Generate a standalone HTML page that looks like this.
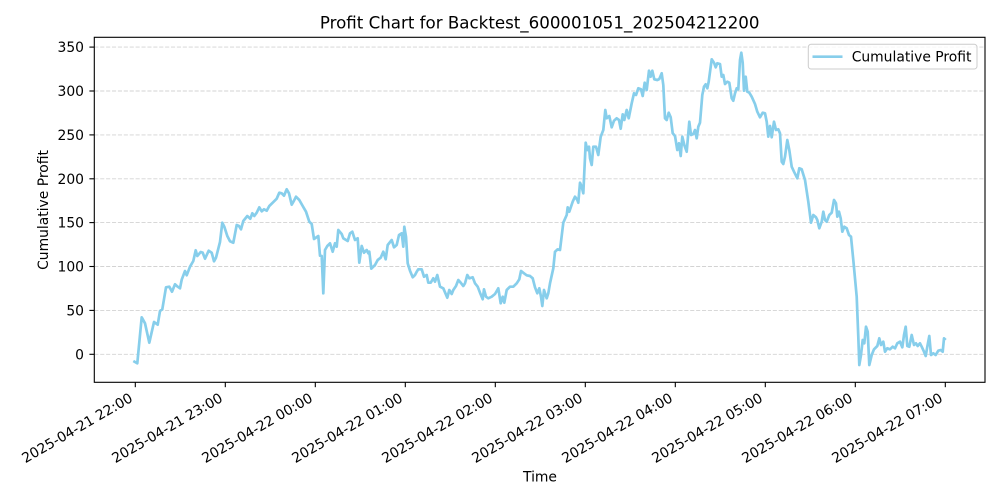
<!DOCTYPE html>
<html>
<head>
<meta charset="utf-8">
<style>
  html, body { margin: 0; padding: 0; background: #ffffff; }
  svg { display: block; }
  text { font-family: "DejaVu Sans", "Liberation Sans", sans-serif; fill: #000; }
</style>
</head>
<body>
<svg width="1000" height="500" viewBox="0 0 1000 500" xmlns="http://www.w3.org/2000/svg">
  <rect x="0" y="0" width="1000" height="500" fill="#ffffff"/>

  <!-- grid -->
  <g stroke="#d3d3d3" stroke-width="0.9" stroke-dasharray="4.1,1.8" fill="none">
    <line x1="94.3" y1="47.1" x2="985" y2="47.1"/>
    <line x1="94.3" y1="91.0" x2="985" y2="91.0"/>
    <line x1="94.3" y1="134.9" x2="985" y2="134.9"/>
    <line x1="94.3" y1="178.8" x2="985" y2="178.8"/>
    <line x1="94.3" y1="222.6" x2="985" y2="222.6"/>
    <line x1="94.3" y1="266.5" x2="985" y2="266.5"/>
    <line x1="94.3" y1="310.4" x2="985" y2="310.4"/>
    <line x1="94.3" y1="354.3" x2="985" y2="354.3"/>
  </g>

  <!-- data line -->
  <polyline fill="none" stroke="#87CEEB" stroke-width="2.7" stroke-linejoin="round" stroke-linecap="butt"
    points="133.3,361 137.3,363.3 141.7,317.3 145,323.3 149.3,342.7 154,322 157.7,324.7 160,311 162.3,309.3 166,287.3 169.3,286.7 172,291.7 175,284.3 177.7,286.7 180,288.3 181.7,279.7 185,271 186.7,275.3 190,266.7 193.3,261 195.7,250.3 197.3,256 200.7,252 202.7,252.7 205,258.7 208.7,250.7 211.7,252.7 214,261.3 216,257.7 220,242 222.3,222.7 224.3,226.7 227.3,236 230,241.3 233.3,242.7 236.7,225 239,226 241,229.3 243.3,221 247.3,216 250.3,218.7 252.3,213.3 254.3,216 256.7,212.7 259.3,207.3 261.7,211.3 264,209.3 266.7,210.7 269.3,206 272.7,202.7 276.7,198.7 279.3,192.7 281.7,193.3 284,195.7 286.7,189.3 289,193.3 291.7,204.7 294,200.7 296,196.7 299.3,200 302.7,206 306,211.7 309.3,221.7 311.7,224 314,239 318.3,236 320,255.7 321.7,256 323.3,293.3 325,250 327.3,246 330,243.3 332.7,251.7 335,243.3 336.7,246.7 338.3,230 341.7,234 343.3,238.3 347.7,241 350,233.3 352.3,231.7 355,240 357.7,238.3 359.3,262.7 361.7,246 364,252.7 366.7,250 368.3,253.3 369.3,251.7 371.3,268.7 375,265 377.7,260 380.7,257.7 383.3,251.7 385.7,259.3 387.7,245 391.7,240 394,247.3 396.7,245 399,235 401.7,233.3 403.3,246.7 404.3,226.7 406,236.7 407.7,263.3 410,270.7 412.7,277.3 415,275 416.7,271.7 418.3,269.3 421.7,269.3 424,276.7 426.7,275 428.3,282.7 430.7,282.7 433.3,278.3 435,281.7 437.3,275 440,286.7 443.3,288.3 447.3,297.7 449.3,290 451.7,294 453.3,290 456,286 458.3,280 460.7,282.7 463.3,286 465,283.3 467.3,275 469.3,278.3 472.7,277.3 475,283.3 477.7,286.7 480,292.7 482.7,299.3 484,289.3 486,296.7 488.3,298.3 491.7,296.7 495,294 498.3,288.3 500.7,303.3 502.7,296.7 504.3,302.7 506.7,290 510,286.7 513.3,286.7 516.7,283.3 519.3,279.3 521,271 524,273.3 526.7,275.3 530,276 532.7,278.3 535,287.3 537.3,293.3 539.3,288.3 541,296.7 542.3,306 544,290 546.7,298.3 548.3,293.3 550,283.3 553.3,268.3 555,251.7 557.7,249.3 560,250 563.3,222.7 566.7,215 567.7,207.3 569.3,211.7 572.7,201.7 575,196.7 577.3,200 578.3,202.7 580,182.7 581.7,186.7 583.3,193.3 585.7,142.7 587.3,150 589,146.7 590,158.3 591.7,165 593.3,146.7 596,146.7 598.3,155 600.7,136.7 603.3,130 605.3,110 606.7,118.3 609.3,116 611.7,127.3 614,120.7 616.7,118.3 619,120 620.7,128.7 622.7,114.3 624.3,120 626.7,110 628.7,118.3 631.7,103.3 634,93.3 636,95 638.3,88.3 641,89.3 642.7,96 644.7,82.7 646.7,90 649,70.7 650.7,76.7 652.3,70.7 654.3,79.3 657.3,80 659.3,79 661.7,73.3 663.3,85 665,118.3 666.7,120 668.7,112.7 670.7,117.3 672.7,133.3 675,136 677.3,150 679,143.3 680.7,156 682.3,136.7 684.3,145 686.7,151.7 689.3,121.7 691,135 693.3,134 695,130 696.7,138.3 698.3,126.7 700,122.7 702.3,95 704,86.7 705.7,84.3 707.3,88.3 708.7,81.7 711.7,59.3 714,62.7 715.7,67.3 717.3,63.3 720,64 721.7,76.7 723.3,75 725,84 727.3,81.7 729.3,82.7 731.7,98.3 733.3,100.7 735,93.3 736.7,88.3 738.3,89.3 740,60 741.3,52.7 742.7,62.7 744,90.7 745.7,76.7 747.3,91.7 749.3,92.7 751.7,96.7 755,104 757.3,111.7 760,117.3 762.7,112.7 765,113.3 766.7,121.7 768.3,136.7 770,126 771.7,137.3 774,121.7 776,130 778.3,129.3 780,133.3 781.7,161.7 783.3,164 785,156.7 787.3,140 789.3,150 791.7,166.7 794,171.7 797.3,178.3 799.3,168.3 801.7,169.3 805,180 808.3,201.7 811,222.7 813.3,215 816,217.3 817.3,220 819.3,228.3 821.7,221.7 823.3,211.7 825,220 826.7,221.7 829.3,215 831.7,212.7 834,200 836,203.3 837.3,216.7 839,211.7 840.7,218.3 842.3,231.7 844.3,226.7 846.7,228.3 849,235 851,236.7 853.3,260 856.7,296.7 858.3,336.7 859.3,365 861,355 862.7,340 864.3,343.3 866,326.7 867.7,331.7 869.3,365 871.7,355 874,349.3 877.3,346 879.3,338.3 881,345 883.3,341.7 885,351.7 887.3,348.3 890,349.3 892.7,346.7 895,348.3 897.3,343.3 900,341.7 902.3,347.3 904,335 905.7,326.7 907.3,346 909.3,346.7 911.7,335 914,345 916,343.3 917.7,346 920,343.3 921.7,346.7 924,351.7 925.7,356 927.3,346.7 929.3,336 931,355 933.3,353.3 935.7,355 938.3,350.7 940.7,350 942.7,351.7 944,338.3 945.7,340"/>

  <!-- spines -->
  <rect x="94.3" y="37.3" width="890.7" height="345" fill="none" stroke="#000" stroke-width="1.1"/>

  <!-- y ticks -->
  <g stroke="#000" stroke-width="1.1">
    <line x1="89.4" y1="47.1" x2="94.3" y2="47.1"/>
    <line x1="89.4" y1="91.0" x2="94.3" y2="91.0"/>
    <line x1="89.4" y1="134.9" x2="94.3" y2="134.9"/>
    <line x1="89.4" y1="178.8" x2="94.3" y2="178.8"/>
    <line x1="89.4" y1="222.6" x2="94.3" y2="222.6"/>
    <line x1="89.4" y1="266.5" x2="94.3" y2="266.5"/>
    <line x1="89.4" y1="310.4" x2="94.3" y2="310.4"/>
    <line x1="89.4" y1="354.3" x2="94.3" y2="354.3"/>
  </g>
  <g font-size="13.89" text-anchor="end">
    <text x="84" y="52.2">350</text>
    <text x="84" y="96.1">300</text>
    <text x="84" y="140.0">250</text>
    <text x="84" y="183.9">200</text>
    <text x="84" y="227.7">150</text>
    <text x="84" y="271.6">100</text>
    <text x="84" y="315.5">50</text>
    <text x="84" y="359.4">0</text>
  </g>

  <!-- x ticks -->
  <g stroke="#000" stroke-width="1.1">
    <line x1="135.3" y1="382.3" x2="135.3" y2="387.2"/>
    <line x1="225.3" y1="382.3" x2="225.3" y2="387.2"/>
    <line x1="315.3" y1="382.3" x2="315.3" y2="387.2"/>
    <line x1="405.3" y1="382.3" x2="405.3" y2="387.2"/>
    <line x1="495.3" y1="382.3" x2="495.3" y2="387.2"/>
    <line x1="585.3" y1="382.3" x2="585.3" y2="387.2"/>
    <line x1="675.3" y1="382.3" x2="675.3" y2="387.2"/>
    <line x1="765.3" y1="382.3" x2="765.3" y2="387.2"/>
    <line x1="855.3" y1="382.3" x2="855.3" y2="387.2"/>
    <line x1="945.3" y1="382.3" x2="945.3" y2="387.2"/>
  </g>
  <g font-size="13.89" text-anchor="end">
    <text x="133.7" y="400.8" transform="rotate(-30 133.7 400.8)">2025-04-21 22:00</text>
    <text x="223.7" y="400.8" transform="rotate(-30 223.7 400.8)">2025-04-21 23:00</text>
    <text x="313.7" y="400.8" transform="rotate(-30 313.7 400.8)">2025-04-22 00:00</text>
    <text x="403.7" y="400.8" transform="rotate(-30 403.7 400.8)">2025-04-22 01:00</text>
    <text x="493.7" y="400.8" transform="rotate(-30 493.7 400.8)">2025-04-22 02:00</text>
    <text x="583.7" y="400.8" transform="rotate(-30 583.7 400.8)">2025-04-22 03:00</text>
    <text x="673.7" y="400.8" transform="rotate(-30 673.7 400.8)">2025-04-22 04:00</text>
    <text x="763.7" y="400.8" transform="rotate(-30 763.7 400.8)">2025-04-22 05:00</text>
    <text x="853.7" y="400.8" transform="rotate(-30 853.7 400.8)">2025-04-22 06:00</text>
    <text x="943.7" y="400.8" transform="rotate(-30 943.7 400.8)">2025-04-22 07:00</text>
  </g>

  <!-- axis labels -->
  <text x="540" y="481.7" font-size="13.89" text-anchor="middle">Time</text>
  <text x="48" y="210" font-size="13.89" text-anchor="middle" transform="rotate(-90 48 210)">Cumulative Profit</text>

  <!-- title -->
  <text x="539.7" y="28.3" font-size="16.67" text-anchor="middle">Profit Chart for Backtest_600001051_202504212200</text>

  <!-- legend -->
  <rect x="808.3" y="44.3" width="168.7" height="24.7" rx="2.8" ry="2.8" fill="#ffffff" fill-opacity="0.8" stroke="#cccccc" stroke-width="1"/>
  <line x1="812.5" y1="56.7" x2="842.5" y2="56.7" stroke="#87CEEB" stroke-width="2.7"/>
  <text x="851.7" y="61.5" font-size="13.89">Cumulative Profit</text>
</svg>
</body>
</html>
